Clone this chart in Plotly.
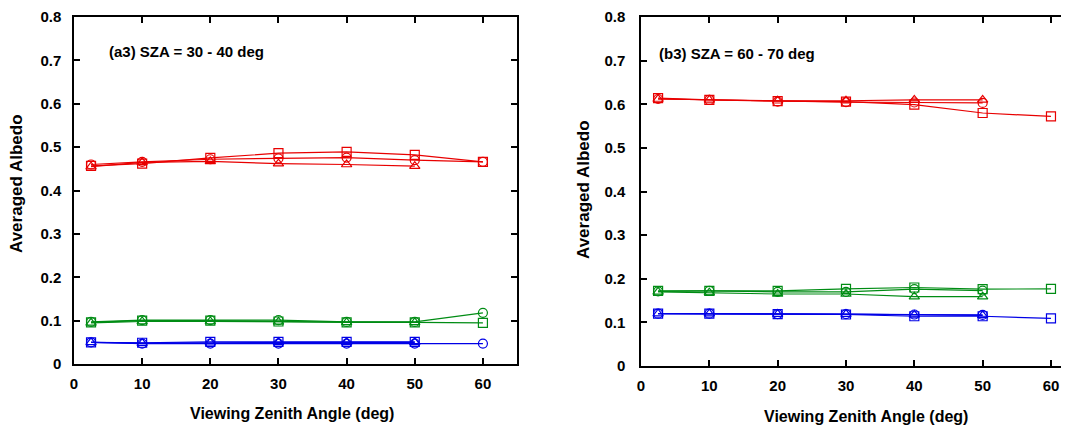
import plotly.graph_objects as go

vza = [2.5, 10, 20, 30, 40, 50, 60]

# Panel a3 (SZA 30-40)
a_red_sq = [0.457, 0.462, 0.475, 0.486, 0.489, 0.482, 0.466]
a_red_ci = [0.460, 0.466, 0.472, 0.474, 0.476, 0.470, 0.466]
a_red_tr = [0.455, 0.465, 0.467, 0.462, 0.460, 0.456]
a_grn_sq = [0.096, 0.100, 0.100, 0.098, 0.096, 0.096, 0.095]
a_grn_ci = [0.097, 0.101, 0.101, 0.101, 0.097, 0.097, 0.118]
a_grn_tr = [0.095, 0.098, 0.098, 0.097, 0.096, 0.096]
a_blu_sq = [0.050, 0.049, 0.051, 0.051, 0.051, 0.051]
a_blu_ci = [0.050, 0.047, 0.047, 0.047, 0.047, 0.047, 0.047]
a_blu_tr = [0.050, 0.048, 0.049, 0.050, 0.050, 0.050]

# Panel b3 (SZA 60-70)
b_red_sq = [0.614, 0.610, 0.607, 0.606, 0.599, 0.580, 0.572]
b_red_ci = [0.612, 0.610, 0.606, 0.605, 0.604, 0.603]
b_red_tr = [0.612, 0.610, 0.608, 0.608, 0.610, 0.610]
b_grn_sq = [0.172, 0.172, 0.172, 0.177, 0.180, 0.176, 0.177]
b_grn_ci = [0.171, 0.172, 0.170, 0.170, 0.176, 0.173]
b_grn_tr = [0.170, 0.168, 0.165, 0.165, 0.159, 0.159]
b_blu_sq = [0.120, 0.120, 0.119, 0.118, 0.114, 0.114, 0.109]
b_blu_ci = [0.120, 0.120, 0.119, 0.119, 0.118, 0.117]
b_blu_tr = [0.120, 0.120, 0.119, 0.119, 0.117, 0.116]

x_ticks = [0, 10, 20, 30, 40, 50, 60]
y_ticks = [0, 0.1, 0.2, 0.3, 0.4, 0.5, 0.6, 0.7, 0.8]
y_ticktext = ["0", "0.1", "0.2", "0.3", "0.4", "0.5", "0.6", "0.7", "0.8"]

RED = "rgb(232,0,0)"
GRN = "rgb(0,140,20)"
BLU = "rgb(0,0,230)"
FONT = "Liberation Sans"

fig = go.Figure()

def add(x, y, color, sym, xa, ya):
    fig.add_trace(go.Scatter(
        x=x[:len(y)], y=y, mode="lines+markers", xaxis=xa, yaxis=ya,
        line=dict(color=color, width=1.2),
        marker=dict(symbol=sym, size=9, color=color, line=dict(color=color, width=1.2)),
        showlegend=False, hoverinfo="skip"))

for ys, c, s in [(a_red_sq, RED, "square-open"), (a_red_ci, RED, "circle-open"), (a_red_tr, RED, "triangle-up-open"),
                 (a_grn_sq, GRN, "square-open"), (a_grn_ci, GRN, "circle-open"), (a_grn_tr, GRN, "triangle-up-open"),
                 (a_blu_sq, BLU, "square-open"), (a_blu_ci, BLU, "circle-open"), (a_blu_tr, BLU, "triangle-up-open")]:
    add(vza, ys, c, s, "x", "y")
for ys, c, s in [(b_red_sq, RED, "square-open"), (b_red_ci, RED, "circle-open"), (b_red_tr, RED, "triangle-up-open"),
                 (b_grn_sq, GRN, "square-open"), (b_grn_ci, GRN, "circle-open"), (b_grn_tr, GRN, "triangle-up-open"),
                 (b_blu_sq, BLU, "square-open"), (b_blu_ci, BLU, "circle-open"), (b_blu_tr, BLU, "triangle-up-open")]:
    add(vza, ys, c, s, "x2", "y2")

# page has an 8px body margin; figure coordinates = page coordinates - 8
OFF = 8
W, H = 1069 - OFF, 427 - OFF
def px(x):
    return (x - OFF) / W
def py(y):
    return 1 - (y - OFF) / H

tickfont = dict(family=FONT, size=15, color="black", weight="bold")
common_x = dict(tickmode="array", tickvals=x_ticks, ticks="inside", ticklen=6,
                tickwidth=1.5, tickcolor="black", showline=True, linecolor="black", linewidth=1.5,
                showgrid=False, zeroline=False, tickfont=tickfont, automargin=False, ticklabelstandoff=5,
                ticklabeloverflow="allow")
common_y = dict(range=[0, 0.8], tickmode="array", tickvals=y_ticks, ticktext=y_ticktext,
                ticks="inside", ticklen=6, tickwidth=1.5, tickcolor="black", showline=True,
                linecolor="black", linewidth=1.5, showgrid=False, zeroline=False, tickfont=tickfont,
                automargin=False, ticklabeloverflow="allow")

fig.update_layout(
    width=W, height=H, margin=dict(l=0, r=0, t=0, b=0),
    paper_bgcolor="white", plot_bgcolor="white",
    xaxis=dict(domain=[px(74), px(517)], range=[0, 65], mirror="ticks", anchor="y", **common_x),
    yaxis=dict(domain=[py(364), py(17)], mirror="ticks", anchor="x", ticklabelstandoff=8, **common_y),
    xaxis2=dict(domain=[px(641), 1.0], range=[0, (1069 - 641) / 6.833], mirror="ticks", anchor="y2", **common_x),
    yaxis2=dict(domain=[py(366), py(17)], mirror=False, anchor="x2", ticklabelstandoff=11, **common_y),
)

afont = dict(family=FONT, size=15, color="black")
tfont = dict(family=FONT, size=16, color="black")
yfont = dict(family=FONT, size=17, color="black")
annots = [
    dict(text="<b>(a3) SZA = 30 - 40 deg</b>", x=px(107), y=py(51), xanchor="left", yanchor="middle", font=afont),
    dict(text="<b>(b3) SZA = 60 - 70 deg</b>", x=px(657), y=py(53), xanchor="left", yanchor="middle", font=afont),
    dict(text="<b>Averaged Albedo</b>", x=px(16), y=py(184), textangle=-90, xanchor="center",
         yanchor="middle", font=yfont),
    dict(text="<b>Averaged Albedo</b>", x=px(583), y=py(190), textangle=-90, xanchor="center",
         yanchor="middle", font=yfont),
    dict(text="<b>Viewing Zenith Angle (deg)</b>", x=px(292), y=py(413), xanchor="center",
         yanchor="middle", font=tfont),
    dict(text="<b>Viewing Zenith Angle (deg)</b>", x=px(866), y=py(416), xanchor="center",
         yanchor="middle", font=tfont),
]
for a in annots:
    a.update(xref="paper", yref="paper", showarrow=False)
fig.update_layout(annotations=annots)

fig.write_html("out.html")
